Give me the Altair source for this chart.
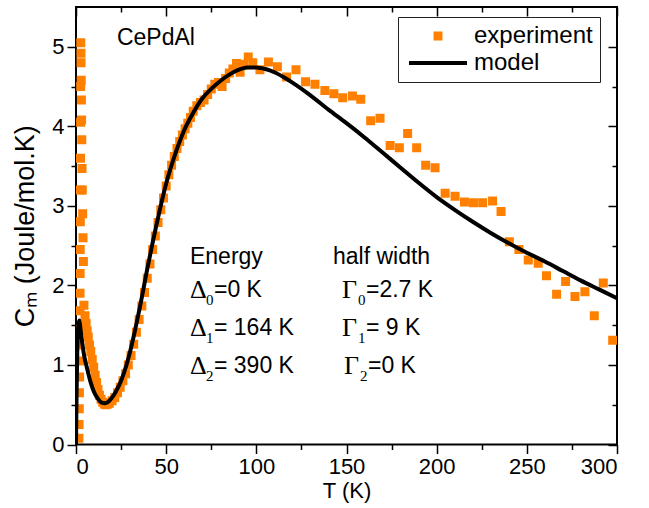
import altair as alt
import pandas as pd

FONT = "Liberation Sans, Arial, sans-serif"
SERIF = "Liberation Serif, Times New Roman, serif"

# ---------------- data ----------------
exp_T = [1.6, 1.7, 1.8, 1.9, 2.0, 2.05, 2.1, 2.15, 2.2, 2.25, 2.3, 2.35, 2.4, 2.45, 2.5, 2.55, 2.6, 2.65,
         2.75, 2.8, 2.9, 3.0, 3.1, 3.2, 3.35, 3.5, 3.7, 3.9, 4.1, 4.4,
         5.0, 5.6, 6.2, 6.8, 7.5, 8.2, 9.0, 9.8, 10.6, 11.4, 12.2, 13.0, 13.9, 14.8, 15.7, 16.6, 17.5,
         18.5, 20, 21.5, 23, 24.5, 26, 27.5, 29, 30.5, 32, 33.5, 35, 36.5, 38, 39.5, 41, 42.5, 44, 45.5,
         47, 48.5, 50, 51.5, 53, 54.5, 56, 57.5, 59, 60.5, 62, 63.5, 65, 67, 69, 71, 73, 75, 77, 79, 81,
         83, 85, 87, 89, 91, 93, 95.5, 98,
         102, 106.7, 111.7, 116.8, 122, 127.3, 132.5, 138, 143, 147.9, 153.3, 157.9, 163.4, 168.6,
         174.2, 179.3, 183.9, 188.9, 193.9, 199.1, 204.7, 210.2, 215.4, 220.4, 225.5, 231, 235.7,
         240.3, 245.6, 250.8, 256.3, 260.9, 266.5, 271.5, 276.7, 282.2, 287.4, 292.4, 297.6]
exp_C = [0.08, 0.25, 0.45, 0.65, 0.85, 1.05, 1.25, 1.45, 1.68, 1.9, 2.15, 2.45, 2.8, 3.2, 3.6, 4.05, 4.5, 5.05,
         4.92, 4.8, 4.58, 4.33, 4.08, 3.83, 3.47, 3.2, 2.9, 2.6, 2.3, 1.75,
         1.62, 1.52, 1.43, 1.35, 1.25, 1.17, 1.07, 0.97, 0.87, 0.78, 0.69, 0.62, 0.57, 0.53, 0.51, 0.5, 0.51,
         0.52, 0.55, 0.59, 0.65, 0.72, 0.8, 0.89, 1.0, 1.12, 1.26, 1.41, 1.57, 1.74, 1.91, 2.09, 2.27, 2.45,
         2.62, 2.79, 2.95, 3.1, 3.25, 3.39, 3.51, 3.62, 3.72, 3.81, 3.89, 3.97, 4.04, 4.11, 4.19, 4.26, 4.3,
         4.33, 4.4, 4.47, 4.53, 4.55, 4.5, 4.6, 4.67, 4.72, 4.79, 4.68, 4.78, 4.87, 4.8,
         4.71, 4.81, 4.75, 4.62, 4.71, 4.56, 4.53, 4.45, 4.41, 4.36, 4.38, 4.34, 4.07, 4.10,
         3.76, 3.73, 3.91, 3.73, 3.51, 3.48, 3.16, 3.12, 3.05, 3.04, 3.04, 3.06, 2.93,
         2.55, 2.45, 2.32, 2.28, 2.12, 1.89, 2.05, 1.86, 1.92, 1.62, 2.03, 1.31]

model_T = [0, 0.3, 0.7, 1.2, 1.8, 2.5, 3.5, 4.5, 6, 8, 10, 12, 14, 16, 18, 20, 22, 25, 28, 31, 35, 40,
           45, 50, 55, 60, 65, 70, 75, 80, 85, 90, 95, 100, 105, 110, 115, 120, 130, 140, 150, 160,
           170, 180, 190, 200, 210, 220, 230, 240, 250, 260, 270, 280, 290, 300]
model_C = [0, 0.6, 1.15, 1.48, 1.56, 1.45, 1.27, 1.12, 0.97, 0.79, 0.66, 0.58, 0.53, 0.52, 0.54, 0.59,
           0.66, 0.8, 1.0, 1.26, 1.68, 2.26, 2.8, 3.28, 3.65, 3.95, 4.17, 4.35, 4.47, 4.57, 4.65, 4.71,
           4.74, 4.74, 4.72, 4.68, 4.62, 4.55, 4.39, 4.21, 4.04, 3.86, 3.67, 3.48, 3.29, 3.11, 2.95, 2.8,
           2.66, 2.53, 2.41, 2.3, 2.18, 2.06, 1.95, 1.84]

series_names = ["experiment", "model"]
series_colors = ["#FF8000", "#000000"]

sample_label = ["CePdAl"]
sample_T = [22.7]
sample_C = [5.11]

head_labels = ["Energy", "half width"]
head_T = [63.2, 142.5]
head_C = [2.36, 2.36]

greek_labels = ["Δ", "Δ", "Δ", "Γ", "Γ", "Γ"]
sub_labels = ["0", "1", "2", "0", "1", "2"]
value_labels = ["=0 K", "= 164 K", "= 390 K", "=2.7 K", "= 9 K", "=0 K"]
param_T = [63.2, 63.2, 63.2, 147.5, 147.5, 148.6]
param_C = [1.94, 1.46, 0.99, 1.94, 1.46, 0.99]

x_major = [0, 50, 100, 150, 200, 250, 300]
x_minor = [25, 75, 125, 175, 225, 275]
y_major = [0, 1, 2, 3, 4, 5]
y_minor = [0.5, 1.5, 2.5, 3.5, 4.5]

# ---------------- tables ----------------
exp_df = pd.DataFrame({"T": exp_T, "C": exp_C, "series": ["experiment"] * len(exp_T)})
model_df = pd.DataFrame({"T": model_T, "C": model_C})
sample_df = pd.DataFrame({"T": sample_T, "C": sample_C, "label": sample_label})
head_df = pd.DataFrame({"T": head_T, "C": head_C, "label": head_labels})
param_df = pd.DataFrame({"T": param_T, "C": param_C, "greek": greek_labels,
                         "sub": sub_labels, "val": value_labels})

xs = alt.Scale(domain=[0, 300], nice=False, zero=False)
ys = alt.Scale(domain=[0, 5.5], nice=False, zero=False)

MAJ = 9
MIN = 5


def axis(orient, values, size, offset=0, labels=False, title=None, **kw):
    args = dict(orient=orient, values=values, tickSize=size, labels=labels,
                domain=False, grid=False, title=title, tickColor="black", tickWidth=1.5)
    if offset:
        args["offset"] = offset
    args.update(kw)
    return alt.Axis(**args)


ax_bottom_major = axis("bottom", x_major, MAJ, labels=True, title="T (K)",
                       labelFontSize=22, labelPadding=3, titleFontSize=22,
                       titleFontWeight="normal", titlePadding=3, format="d")
ax_bottom_minor = axis("bottom", x_minor, MIN)
ax_top_major = axis("top", x_major, MAJ, offset=-MAJ)
ax_top_minor = axis("top", x_minor, MIN, offset=-MIN)

ax_left_major = axis("left", y_major, MAJ, labels=True, title="Cₘ  (Joule/mol.K)",
                     labelFontSize=22, labelPadding=3, titleFontSize=27,
                     titleFontWeight="normal", titlePadding=12, format="d")
ax_left_minor = axis("left", y_minor, MIN)
ax_right_major = axis("right", y_major, MAJ, offset=-MAJ)
ax_right_minor = axis("right", y_minor, MIN, offset=-MIN)

SYM = 400  # 20 px symbol box
SQUARE = "M-0.45,-0.45L0.45,-0.45L0.45,0.45L-0.45,0.45Z"
BAR = "M-2.9,-0.2L2.9,-0.2L2.9,0.2L-2.9,0.2Z"

leg = alt.Legend(title=None, orient="none", legendX=322, legendY=10,
                 strokeColor="#222222", fillColor="white", padding=7,
                 labelFontSize=24, labelFont=FONT, labelColor="black",
                 symbolOffset=21, labelOffset=24, rowPadding=3,
                 symbolSize=SYM, symbolStrokeWidth=0, labelLimit=400)

pts = alt.Chart(exp_df).mark_point(filled=True, opacity=1, size=SYM, clip=True, strokeWidth=0).encode(
    x=alt.X("T:Q", scale=xs, axis=ax_bottom_major),
    y=alt.Y("C:Q", scale=ys, axis=ax_left_major),
    color=alt.Color("series:N", scale=alt.Scale(domain=series_names, range=series_colors), legend=leg),
    shape=alt.Shape("series:N", scale=alt.Scale(domain=series_names, range=[SQUARE, BAR]), legend=leg),
)

line = alt.Chart(model_df).mark_line(color="black", strokeWidth=4, clip=True, interpolate="monotone").encode(
    x=alt.X("T:Q", scale=xs, axis=ax_bottom_minor),
    y=alt.Y("C:Q", scale=ys, axis=ax_left_minor),
)

txt_kw = dict(align="left", baseline="middle", fontSize=23, font=FONT, color="black")

t_sample = alt.Chart(sample_df).mark_text(**txt_kw).encode(
    x=alt.X("T:Q", scale=xs, axis=ax_top_major),
    y=alt.Y("C:Q", scale=ys, axis=ax_right_major),
    text="label:N",
)
t_head = alt.Chart(head_df).mark_text(**txt_kw).encode(
    x=alt.X("T:Q", scale=xs, axis=ax_top_minor),
    y=alt.Y("C:Q", scale=ys, axis=ax_right_minor),
    text="label:N",
)
base_param = alt.Chart(param_df)
t_greek = base_param.mark_text(align="left", baseline="middle", fontSize=26, font=SERIF, color="black").encode(
    x=alt.X("T:Q", scale=xs, axis=None),
    y=alt.Y("C:Q", scale=ys, axis=None),
    text="greek:N",
)
t_sub = base_param.mark_text(align="left", baseline="middle", fontSize=15, font=SERIF, color="black",
                             dx=16, dy=10).encode(
    x=alt.X("T:Q", scale=xs, axis=None),
    y=alt.Y("C:Q", scale=ys, axis=None),
    text="sub:N",
)
t_val = base_param.mark_text(align="left", baseline="middle", fontSize=23, font=FONT, color="black",
                             dx=24).encode(
    x=alt.X("T:Q", scale=xs, axis=None),
    y=alt.Y("C:Q", scale=ys, axis=None),
    text="val:N",
)

chart = alt.layer(pts, line, t_sample, t_head, t_greek, t_sub, t_val).resolve_axis(
    x="independent", y="independent"
).properties(
    width=541, height=437.5,
    padding={"left": 76, "top": 7, "right": 32, "bottom": 63.5},
    autosize=alt.AutoSizeParams(type="none"),
    background="white",
).configure_view(stroke="black", strokeWidth=2).configure_axis(
    labelFont=FONT, titleFont=FONT, labelColor="black", titleColor="black"
)

chart.save("out.html", embed_options={"renderer": "svg", "actions": False})
